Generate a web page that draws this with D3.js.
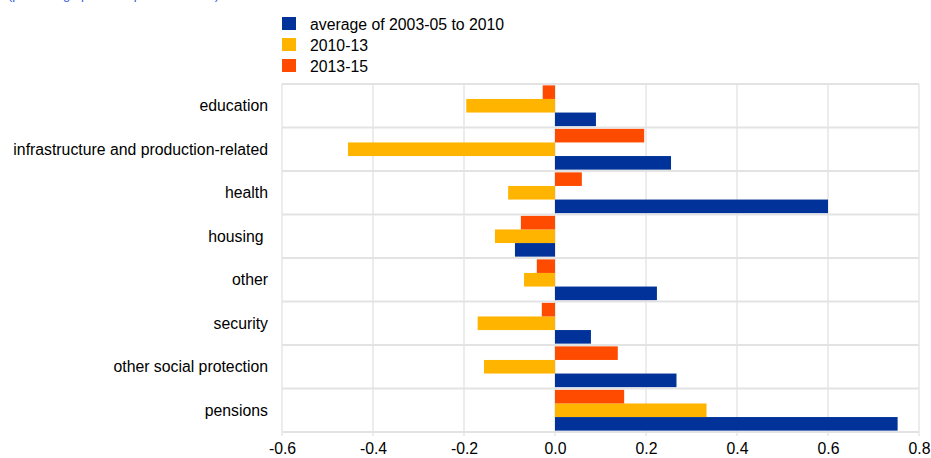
<!DOCTYPE html>
<html>
<head>
<meta charset="utf-8">
<script src="https://cdn.jsdelivr.net/npm/d3@7"></script>
<style>
  body { margin: 0; background: #fff; }
  text { font-family: "Liberation Sans", Arial, sans-serif; }
</style>
</head>
<body>
<script>
// categories from bottom to top as they appear
const categories = [
  'pensions', 'other social protection', 'security', 'other',
  'housing\u00a0', 'health', 'infrastructure and production-related', 'education'
];
const seriesNames = ['average of 2003-05 to 2010', '2010-13', '2013-15'];
const avg0310 = [0.753, 0.267, 0.079, 0.224, -0.088, 0.600, 0.255, 0.090];
const chg1013 = [0.333, -0.156, -0.170, -0.068, -0.132, -0.103, -0.455, -0.195];
const chg1315 = [0.152, 0.138, -0.029, -0.040, -0.075, 0.059, 0.196, -0.027];
const xTicks = [-0.6, -0.4, -0.2, 0.0, 0.2, 0.4, 0.6, 0.8];
const colors = ['#003299', '#FFB400', '#FF4B00'];

const width = 931, height = 458;
const margin = { top: 84, right: 12, bottom: 26, left: 282 };
const fs = '15.8px';

const svg = d3.select('body').append('svg')
  .attr('width', width)
  .attr('height', height);

const x = d3.scaleLinear()
  .domain([-0.6, 0.8])
  .range([margin.left, width - margin.right]);

// top row is education, so reverse for the band scale
const y = d3.scaleBand()
  .domain(categories.slice().reverse())
  .range([margin.top, height - margin.bottom]);

// order inside a row: 2013-15 top, 2010-13 middle, average bottom
const inner = d3.scaleBand()
  .domain([2, 1, 0])
  .range([0, y.bandwidth()])
  .paddingInner(0)
  .paddingOuter(0.1);

// cut-off subtitle at the very top
svg.append('text')
  .attr('x', 8).attr('y', -1)
  .attr('fill', '#3b5bd9')
  .style('font-size', '13px')
  .text('(percentage points of potential GDP)');

// vertical grid lines
svg.append('g')
  .selectAll('line')
  .data(xTicks)
  .join('line')
  .attr('x1', d => x(d)).attr('x2', d => x(d))
  .attr('y1', margin.top).attr('y2', height - margin.bottom + 4)
  .attr('stroke', '#d9d9d9')
  .attr('stroke-width', 1);

// horizontal row separators
const rowLines = categories.slice().reverse().map(c => y(c)).concat([height - margin.bottom]);
svg.append('g')
  .selectAll('line')
  .data(rowLines)
  .join('line')
  .attr('x1', margin.left).attr('x2', width - margin.right)
  .attr('y1', d => d).attr('y2', d => d)
  .attr('stroke', '#e3e3e3')
  .attr('stroke-width', 2);

const series = [avg0310, chg1013, chg1315];

series.forEach((vals, si) => {
  svg.append('g')
    .selectAll('rect')
    .data(vals)
    .join('rect')
    .attr('x', d => x(Math.min(0, d)))
    .attr('width', d => Math.abs(x(d) - x(0)))
    .attr('y', (d, i) => y(categories[i]) + inner(si))
    .attr('height', inner.bandwidth())
    .attr('fill', colors[si]);
});

// x axis labels (plain hyphen for negatives, like the original)
const xAxis = d3.axisBottom(x)
  .tickValues(xTicks)
  .tickFormat(d => d.toFixed(1))
  .tickSize(0)
  .tickPadding(11);

const gx = svg.append('g')
  .attr('transform', `translate(0,${height - margin.bottom})`)
  .call(xAxis);
gx.select('.domain').remove();
gx.selectAll('text')
  .style('font-size', fs)
  .attr('fill', '#000')
  .style('font-family', '"Liberation Sans", Arial, sans-serif');

// category labels
svg.append('g')
  .selectAll('text')
  .data(categories)
  .join('text')
  .attr('x', 268)
  .attr('y', d => y(d) + y.bandwidth() / 2)
  .attr('dy', '0.35em')
  .attr('text-anchor', 'end')
  .style('font-size', fs)
  .attr('fill', '#000')
  .text(d => d);

// legend
const legend = svg.append('g');
seriesNames.forEach((name, i) => {
  legend.append('rect')
    .attr('x', 282).attr('y', 17 + i * 21)
    .attr('width', 14).attr('height', 13)
    .attr('fill', colors[i]);
  legend.append('text')
    .attr('x', 310).attr('y', 24 + i * 21)
    .attr('dy', '0.35em')
    .style('font-size', fs)
    .attr('fill', '#000')
    .text(name);
});
</script>
</body>
</html>
